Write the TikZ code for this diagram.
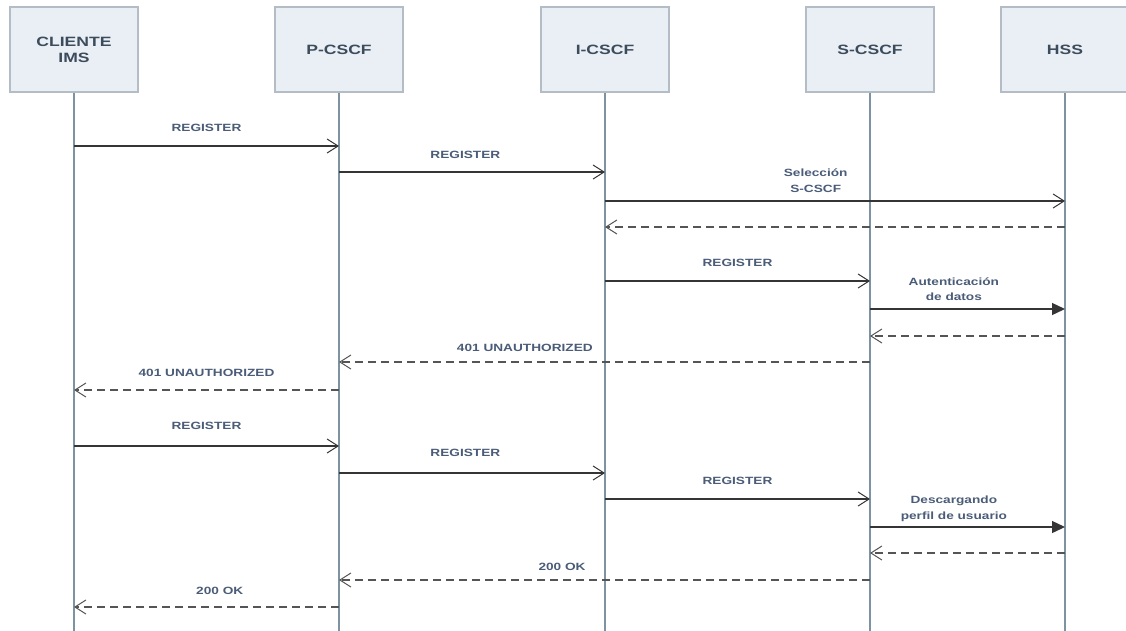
\documentclass[tikz,border=0pt]{standalone}
\usepackage{fontspec}
\usetikzlibrary{arrows.meta}
\newfontfamily\seqfont{Liberation Sans}[FakeStretch=1.3]

\definecolor{boxfill}{HTML}{E9EFF5}
\definecolor{boxline}{HTML}{B4BDC6}
\definecolor{lifeline}{HTML}{7E93A2}
\definecolor{hdrtext}{HTML}{3D4C5C}
\definecolor{msgtext}{HTML}{4A5C78}
\definecolor{msgline}{HTML}{353535}
\definecolor{retline}{HTML}{555555}

\tikzset{
  actor/.style={draw=boxline, line width=1.2pt, fill=boxfill,
    minimum width=128pt, minimum height=85pt, inner sep=0pt,
    align=center, text=hdrtext, font=\seqfont\bfseries\fontsize{13.5}{16}\selectfont},
  lifelinestyle/.style={draw=lifeline, line width=1.2pt},
  msg/.style={draw=msgline, line width=1.2pt,
    -{Straight Barb[length=11pt,width=14pt,line width=1pt]}},
  call/.style={draw=msgline, line width=1.3pt,
    -{Triangle[length=13pt,width=12pt]}},
  reply/.style={draw=retline, line width=1.2pt, dash pattern=on 8pt off 5pt,
    -{Straight Barb[length=11pt,width=14pt,line width=1pt]}},
  msglabel/.style={text=msgtext, inner sep=0pt, align=center,
    font=\seqfont\bfseries\fontsize{10.5}{15.5}\selectfont},
}

\begin{document}
\begin{tikzpicture}[x=1pt, y=-1pt]
  \useasboundingbox (0,0) rectangle (1126,630);
  \clip (0,0) rectangle (1126,630);

  % participants
  \node[actor] (cli) at (74,49.5)  {CLIENTE\\IMS};
  \node[actor] (pcs) at (339,49.5) {P-CSCF};
  \node[actor] (ics) at (605,49.5) {I-CSCF};
  \node[actor] (scs) at (870,49.5) {S-CSCF};
  \node[actor] (hss) at (1065,49.5) {HSS};

  % bottom of the lifelines
  \coordinate (bottom) at (0,632);
  \foreach \p in {cli,pcs,ics,scs,hss}
    \draw[lifelinestyle] (\p.south) -- (\p.south |- bottom);

  % message rows
  \coordinate (r1)  at (0,146);
  \coordinate (r2)  at (0,172);
  \coordinate (r3)  at (0,201);
  \coordinate (r4)  at (0,227);
  \coordinate (r5)  at (0,281);
  \coordinate (r6)  at (0,309);
  \coordinate (r7)  at (0,336);
  \coordinate (r8)  at (0,362);
  \coordinate (r9)  at (0,390);
  \coordinate (r10) at (0,446);
  \coordinate (r11) at (0,473);
  \coordinate (r12) at (0,499);
  \coordinate (r13) at (0,527);
  \coordinate (r14) at (0,553);
  \coordinate (r15) at (0,580);
  \coordinate (r16) at (0,607);

  % first registration attempt
  \draw[msg] (cli |- r1) -- node[msglabel, pos=0.5, yshift=18pt] {REGISTER} (pcs |- r1);
  \draw[msg] (pcs |- r2) -- node[msglabel, pos=0.475, yshift=17pt] {REGISTER} (ics |- r2);
  \draw[msg] (ics |- r3) -- node[msglabel, pos=0.458, yshift=20.5pt] {Selección\\S-CSCF} (hss |- r3);
  \draw[reply] (hss |- r4) -- (ics |- r4);
  \draw[msg] (ics |- r5) -- node[msglabel, pos=0.5, yshift=18pt] {REGISTER} (scs |- r5);
  \draw[call] (scs |- r6) -- node[msglabel, pos=0.43, yshift=20pt] {Autenticación\\de datos} (hss |- r6);
  \draw[reply] (hss |- r7) -- (scs |- r7);
  \draw[reply] (scs |- r8) -- node[msglabel, pos=0.65, yshift=14pt] {401 UNAUTHORIZED} (pcs |- r8);
  \draw[reply] (pcs |- r9) -- node[msglabel, pos=0.5, yshift=17pt] {401 UNAUTHORIZED} (cli |- r9);

  % second registration attempt
  \draw[msg] (cli |- r10) -- node[msglabel, pos=0.5, yshift=20pt] {REGISTER} (pcs |- r10);
  \draw[msg] (pcs |- r11) -- node[msglabel, pos=0.475, yshift=20pt] {REGISTER} (ics |- r11);
  \draw[msg] (ics |- r12) -- node[msglabel, pos=0.5, yshift=18pt] {REGISTER} (scs |- r12);
  \draw[call] (scs |- r13) -- node[msglabel, pos=0.43, yshift=18pt] {Descargando\\perfil de usuario} (hss |- r13);
  \draw[reply] (hss |- r14) -- (scs |- r14);
  \draw[reply] (scs |- r15) -- node[msglabel, pos=0.58, yshift=13pt] {200 OK} (pcs |- r15);
  \draw[reply] (pcs |- r16) -- node[msglabel, pos=0.45, yshift=16pt] {200 OK} (cli |- r16);
\end{tikzpicture}
\end{document}
